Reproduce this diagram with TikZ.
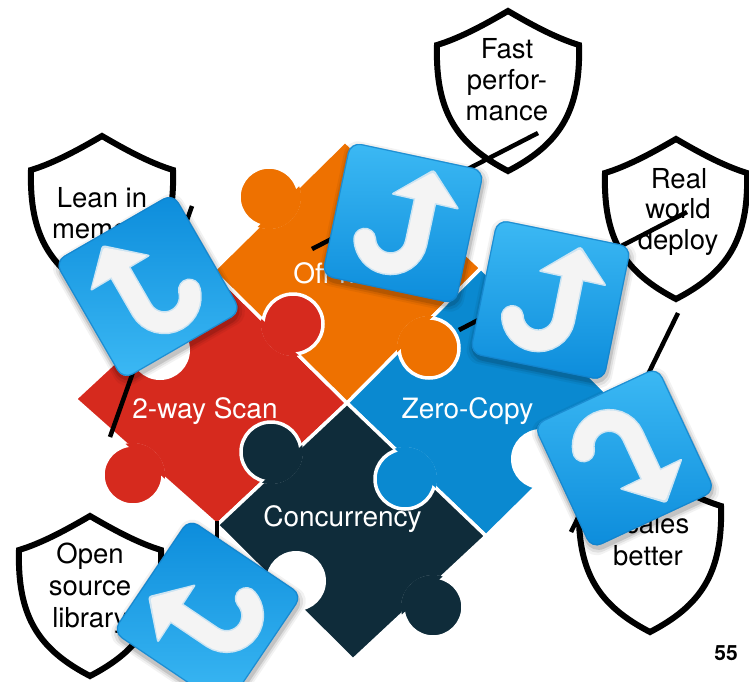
\documentclass[tikz,border=0pt]{standalone}
\usepackage{fontspec}
\setmainfont{TeX Gyre Heros}
\usetikzlibrary{calc}

\definecolor{pzred}{HTML}{D62A1E}
\definecolor{pzorange}{HTML}{EE7100}
\definecolor{pzblue}{HTML}{0A89D0}
\definecolor{pznavy}{HTML}{0F2C3A}
\definecolor{iclight}{HTML}{3CB9F4}
\definecolor{icdark}{HTML}{0C8CDB}
\definecolor{icrim}{HTML}{1380C8}
\definecolor{arrowwhite}{HTML}{F4F4F4}
\definecolor{arrowrim}{HTML}{CDE4F2}

% a tab of a puzzle piece: circle with a white outline, neck refilled inside the piece
\newcommand\pzknob[3]{%
  \path[gap, fill=#1] (#2) circle[radius=30];
  \begin{scope}
    \clip #3;
    \fill[#1] (#2) circle[radius=32];
  \end{scope}}

% a tilted blue button with a bent white arrow
% #1 x, #2 y, #3 rotation, #4 xscale, #5 yscale, #6 top colour, #7 bottom colour
\newcommand\pzicon[7]{%
  \foreach \s/\o in {74/0.05, 72/0.08, 70/0.12}{
    \fill[black, opacity=\o, shift={(#1+1,#2+3.5)}, rotate=#3, rounded corners=14pt]
      (-\s,-\s) rectangle (\s,\s);
  }
  \begin{scope}[shift={(#1,#2)}, rotate=#3]
    \shade[top color=#6, bottom color=#7, rounded corners=11pt] (-68.5,-68.5) rectangle (68.5,68.5);
    \draw[icrim, opacity=0.7, line width=1.2pt, rounded corners=11pt] (-68,-68) rectangle (68,68);
    \begin{scope}[xscale=#4, yscale=#5]
      \fill[arrowrim, rounded corners=3pt] (19,-59) -- (53,-24.5) -- (-18.5,-25.5) -- cycle;
      \draw[arrowrim, line width=23pt, line cap=round]
        (17,-27) -- (17,17) .. controls (17,31.36) and (5.36,43) .. (-9,43)
        .. controls (-20.77,43) and (-31.06,35.1) .. (-34.11,23.73);
      \draw[arrowwhite, line width=20pt, line cap=round]
        (17,-27) -- (17,17) .. controls (17,31.36) and (5.36,43) .. (-9,43)
        .. controls (-20.77,43) and (-31.06,35.1) .. (-34.11,23.73);
      \fill[arrowwhite, rounded corners=2.5pt] (19,-56) -- (50,-26) -- (-15,-27) -- cycle;
    \end{scope}
  \end{scope}}

% shield outline, peak at the origin of the shift
\newcommand\shieldpath{(0,0) .. controls (-24,14) and (-48,27) .. (-71,34)
  .. controls (-73,102) and (-50,134) .. (0,160)
  .. controls (50,134) and (73,102) .. (71,34)
  .. controls (48,27) and (24,14) .. (0,0) -- cycle}

\begin{document}
\begin{tikzpicture}[x=1pt,y=-1pt,
  gap/.style={draw=white, line width=3.5pt, line join=round},
  shieldline/.style={draw=black, line width=6pt, line join=miter, fill=white},
  link/.style={draw=black, line width=4.5pt},
  piecelabel/.style={text=white, font=\fontsize{28}{32}\selectfont, inner sep=0pt, anchor=base},
  shieldtext/.style={text=black, font=\fontsize{27.5}{31}\selectfont, inner sep=0pt, anchor=base},
]
\useasboundingbox (0,0) rectangle (749,681);
\fill[white] (0,0) rectangle (749,681);

% puzzle corners
\coordinate (C) at (347,403);
\coordinate (L) at (75,399);
\coordinate (T) at (345,141);
\coordinate (R) at (619,405);
\coordinate (B) at (353,660);
\coordinate (TL) at (213,271);
\coordinate (TR) at (481,268);
\coordinate (BL) at (217,525);
\coordinate (BR) at (486,536);

% the four square bodies
\path[gap, fill=pzred] (L) -- (TL) -- (C) -- (BL) -- cycle;
\path[gap, fill=pzorange] (TL) -- (T) -- (TR) -- (C) -- cycle;
\path[gap, fill=pzblue] (C) -- (TR) -- (R) -- (BR) -- cycle;
\path[gap, fill=pznavy] (BL) -- (C) -- (BR) -- (B) -- cycle;

% tabs
\pzknob{pzred}{133,475}{(L) -- (TL) -- (C) -- (BL) -- cycle}
\pzknob{pzred}{293,324}{(L) -- (TL) -- (C) -- (BL) -- cycle}
\pzknob{pzorange}{269,197}{(TL) -- (T) -- (TR) -- (C) -- cycle}
\pzknob{pzorange}{429,348}{(TL) -- (T) -- (TR) -- (C) -- cycle}
\pzknob{pzblue}{561,325}{(C) -- (TR) -- (R) -- (BR) -- cycle}
\pzknob{pzblue}{405,479}{(C) -- (TR) -- (R) -- (BR) -- cycle}
\pzknob{pznavy}{433,607}{(BL) -- (C) -- (BR) -- (B) -- cycle}
\pzknob{pznavy}{271,452}{(BL) -- (C) -- (BR) -- (B) -- cycle}

% blanks on the outer edges
\fill[white] (160,350) circle[radius=30];
\fill[white] (402,216) circle[radius=30];
\fill[white] (541,459) circle[radius=30];
\fill[white] (296,581) circle[radius=30];

% piece labels
\node[piecelabel] (lbloff) at (347.5,283) {Off-heap};
\node[piecelabel] (lblscan) at (205,418) {2-way Scan};
\node[piecelabel] (lblcopy) at (467.5,418) {Zero-Copy};
\node[piecelabel] (lblconc) at (342.5,526) {Concurrency};

% shields
\path[shieldline, shift={(102,136)}] \shieldpath;
\path[shieldline, shift={(508,11)}] \shieldpath;
\path[shieldline, shift={(676,139)}] \shieldpath;
\path[shieldline, shift={(650,472)}] \shieldpath;
\path[shieldline, shift={(90,516)}] \shieldpath;

\node[shieldtext] (lean1) at (102,207) {Lean in};
\node[shieldtext] (lean2) at (102,238) {memory};
\node[shieldtext] (fast1) at (507,58) {Fast};
\node[shieldtext] (fast2) at (507,89) {perfor-};
\node[shieldtext] (fast3) at (507,120) {mance};
\node[shieldtext] (real1) at (679,188) {Real};
\node[shieldtext] (real2) at (678,218.5) {world};
\node[shieldtext] (real3) at (678,249) {deploy};
\node[shieldtext] (scal1) at (648,533) {Scales};
\node[shieldtext] (scal2) at (648,565) {better};
\node[shieldtext] (open1) at (90,563) {Open};
\node[shieldtext] (open2) at (90,595) {source};
\node[shieldtext] (open3) at (90,627) {library};

% links from the shields towards the pieces
\coordinate (l1a) at (192,206);
\coordinate (l1b) at (110,437);
\coordinate (l2a) at (538,133);
\coordinate (l2b) at (312,249);
\coordinate (l3a) at (687,212);
\coordinate (l3b) at (459,330);
\coordinate (l4a) at (678,313);
\coordinate (l4b) at (571,532);
\coordinate (l5a) at (217,521);
\coordinate (l5b) at (217,560);
\draw[link] (l1a) -- (l1b);
\draw[link] (l2a) -- (l2b);
\draw[link] (l3a) -- (l3b);
\draw[link] (l4a) -- (l4b);
\draw[link] (l5a) -- (l5b);

% buttons
\pzicon{148}{286.5}{30}{-1}{1}{icdark}{iclight}
\pzicon{403}{223}{-12}{1}{1}{iclight}{icdark}
\pzicon{550.5}{300}{-11.5}{1}{1}{iclight}{icdark}
\pzicon{624.5}{458}{25}{1}{-1}{iclight}{icdark}
\pzicon{207.5}{613.5}{56}{-1}{1}{icdark}{iclight}

\node[font=\bfseries\fontsize{21}{24}\selectfont, anchor=base, inner sep=0pt] (pagenum) at (726,660) {55};
\end{tikzpicture}
\end{document}
